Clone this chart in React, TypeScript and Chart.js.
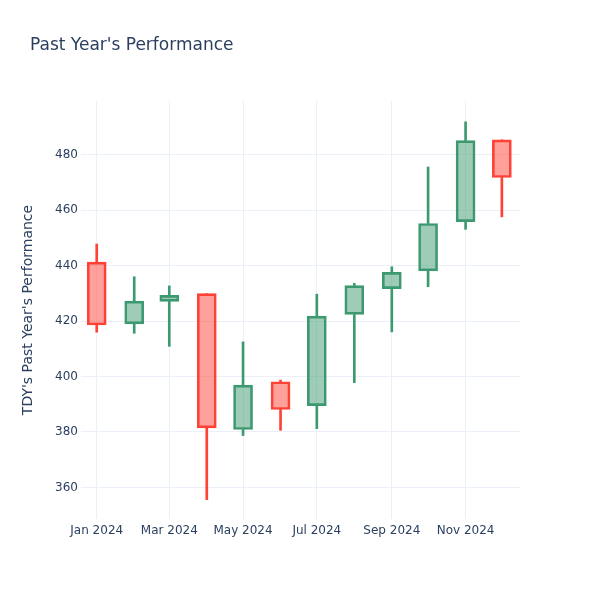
import React, { useEffect, useRef } from "react";
import { Chart, registerables } from "chart.js";

Chart.register(...registerables);

const dates = [
  "2024-01-01", "2024-02-01", "2024-03-01", "2024-04-01", "2024-05-01", "2024-06-01",
  "2024-07-01", "2024-08-01", "2024-09-01", "2024-10-01", "2024-11-01", "2024-12-01",
];
const openValues = [441.3, 419.0, 427.1, 429.9, 380.9, 398.1, 389.5, 422.4, 431.7, 438.1, 455.9, 485.4];
const highValues = [447.8, 436.0, 432.7, 429.9, 412.5, 398.7, 429.7, 433.6, 439.6, 475.6, 491.9, 485.4];
const lowValues = [416.0, 415.6, 410.9, 355.6, 378.7, 380.6, 381.2, 397.8, 416.1, 432.4, 453.1, 457.6];
const closeValues = [418.6, 427.2, 429.3, 381.5, 396.9, 388.1, 421.8, 432.8, 437.6, 455.2, 485.1, 471.8];

const xTickDates = ["2024-01-01", "2024-03-01", "2024-05-01", "2024-07-01", "2024-09-01", "2024-11-01"];
const xTickLabels = ["Jan 2024", "Mar 2024", "May 2024", "Jul 2024", "Sep 2024", "Nov 2024"];
const yTickValues = [360, 380, 400, 420, 440, 460, 480];

const TITLE = "Past Year's Performance";
const Y_TITLE = "TDY's Past Year's Performance";

const BASE = Date.UTC(2024, 0, 1);
const dayOf = (d: string) => (Date.parse(d + "T00:00:00Z") - BASE) / 86400000;

const INC_LINE = "#3D9970";
const DEC_LINE = "#FF4136";
const INC_FILL = "rgba(61,153,112,0.5)";
const DEC_FILL = "rgba(255,65,54,0.5)";
const TEXT = "#2a3f5f";
const GRID = "#EBF0F8";
const FONT = "'DejaVu Sans', sans-serif";

export default function App() {
  const ref = useRef<HTMLCanvasElement | null>(null);

  useEffect(() => {
    if (!ref.current) return;
    const xs = dates.map(dayOf);
    const inc = openValues.map((o, i) => closeValues[i] >= o);
    const lineColors = inc.map((v) => (v ? INC_LINE : DEC_LINE));
    const fillColors = inc.map((v) => (v ? INC_FILL : DEC_FILL));

    const bodies = xs.map((x, i) => ({ x, y: [openValues[i], closeValues[i]] }));
    const lowerWicks = xs.map((x, i) => ({
      x,
      y: [lowValues[i], Math.min(openValues[i], closeValues[i])],
    }));
    const upperWicks = xs.map((x, i) => ({
      x,
      y: [Math.max(openValues[i], closeValues[i]), highValues[i]],
    }));

    const tickMap = new Map<number, string>();
    xTickDates.forEach((d, i) => tickMap.set(dayOf(d), xTickLabels[i]));

    const titleIndent = {
      id: "titleIndent",
      afterLayout(chart: any) {
        const tb = chart.titleBlock;
        if (tb) {
          tb.left = 30;
        }
      },
    };

    const chart = new Chart(ref.current, {
      type: "bar",
      data: {
        datasets: [
          {
            label: "body",
            data: bodies as any,
            backgroundColor: fillColors,
            borderColor: lineColors,
            borderWidth: 2,
            borderSkipped: false,
            barThickness: 19,
            grouped: false,
            order: 0,
          } as any,
          {
            label: "lower",
            data: lowerWicks as any,
            backgroundColor: lineColors,
            borderWidth: 0,
            barThickness: 2,
            grouped: false,
            order: 1,
          } as any,
          {
            label: "upper",
            data: upperWicks as any,
            backgroundColor: lineColors,
            borderWidth: 0,
            barThickness: 2,
            grouped: false,
            order: 1,
          } as any,
        ],
      },
      options: {
        animation: false,
        responsive: false,
        maintainAspectRatio: false,
        layout: { padding: { left: 0, right: 80, top: 0, bottom: 0 } },
        plugins: {
          legend: { display: false },
          tooltip: { enabled: false },
          title: {
            display: true,
            text: TITLE,
            align: "start",
            color: TEXT,
            font: { family: FONT, size: 17, weight: "normal" },
            padding: { top: 35, bottom: 45.6 },
          },
        },
        scales: {
          x: {
            type: "linear",
            min: -13,
            max: 350,
            offset: false,
            afterBuildTicks: (scale: any) => {
              scale.ticks = xTickDates.map((d) => ({ value: dayOf(d) }));
            },
            afterFit: (scale: any) => {
              scale.height = 81;
            },
            ticks: {
              color: TEXT,
              font: { family: FONT, size: 12 },
              padding: 5,
              maxRotation: 0,
              autoSkip: false,
              callback: (v: any) => tickMap.get(Number(v)) ?? "",
            },
            grid: { color: GRID, lineWidth: 1, drawTicks: false, offset: false },
            border: { display: false },
          },
          y: {
            type: "linear",
            min: 348.6,
            max: 499.4,
            afterBuildTicks: (scale: any) => {
              scale.ticks = yTickValues.map((v) => ({ value: v }));
            },
            afterFit: (scale: any) => {
              scale.width = 81;
            },
            ticks: {
              color: TEXT,
              font: { family: FONT, size: 12 },
              padding: 3,
              autoSkip: false,
            },
            grid: { color: GRID, lineWidth: 1, drawTicks: false },
            border: { display: false },
            title: {
              display: true,
              text: Y_TITLE,
              color: TEXT,
              font: { family: FONT, size: 14, weight: "normal" },
              padding: { top: 20, bottom: 0 },
            },
          },
        },
      },
      plugins: [titleIndent],
    } as any);

    return () => chart.destroy();
  }, []);

  return (
    <div style={{ position: "absolute", left: 0, top: 0, width: 600, height: 600, background: "#fff" }}>
      <canvas ref={ref} width={600} height={600} style={{ display: "block", width: 600, height: 600 }} />
    </div>
  );
}
